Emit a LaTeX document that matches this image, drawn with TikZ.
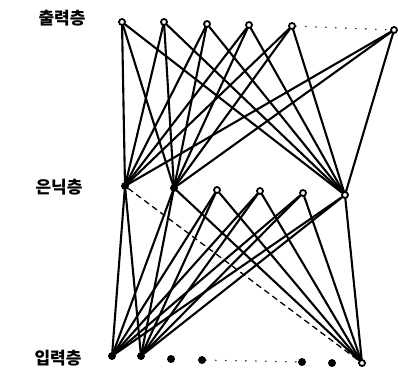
\documentclass[tikz,border=0pt]{standalone}
\usepackage{fontspec}
\newfontfamily\krfont{Noto Sans CJK KR}
\usetikzlibrary{positioning}

\begin{document}
\begin{tikzpicture}[
    x=1pt, y=-1pt,
    every node/.style={font=\krfont\bfseries\fontsize{17}{17}\selectfont},
    unit/.style={circle, draw, line width=1.8pt, inner sep=0pt, minimum size=6pt, fill=#1},
    unit/.default=white,
    dotunit/.style={unit=black},
    link/.style={line width=2.1pt, line cap=round},
    faint/.style={line width=1.3pt, dashed, dash pattern=on 6pt off 4pt},
    gap/.style={line width=1.6pt, line cap=round, dash pattern=on 0pt off 10pt},
    layerlabel/.style={anchor=center, inner sep=0pt},
]
\useasboundingbox (0,0) rectangle (398,372);

% --- output layer ---------------------------------------------------
\node[unit] (o1) at (122,22) {};
\node[unit] (o2) at (164,22) {};
\node[unit] (o3) at (207,24) {};
\node[unit] (o4) at (249,25) {};
\node[unit] (o5) at (292,26) {};
\node[unit] (o6) at (394,30) {};

% --- hidden layer ---------------------------------------------------
\node[dotunit] (h1) at (125,186) {};
\node[dotunit] (h2) at (174,188) {};
\node[unit]    (h3) at (217,190) {};
\node[unit]    (h4) at (260,191) {};
\node[unit]    (h5) at (303,193) {};
\node[unit]    (h6) at (345,195) {};

% --- input layer ----------------------------------------------------
\node[dotunit] (i1) at (112,356) {};
\node[dotunit] (i2) at (141,356) {};
\node[dotunit] (i3) at (171,359) {};
\node[dotunit] (i4) at (202,360) {};
\node[dotunit] (i5) at (302,362) {};
\node[dotunit] (i6) at (332,363) {};
\node[unit]    (i7) at (362,363) {};

% --- layer labels ---------------------------------------------------
\node[layerlabel] (lout) at (62,18)  {출력층};
\node[layerlabel] (lhid) at (59,187) {은닉층};
\node[layerlabel] (lin)  at (58,358) {입력층};

% --- output -> hidden (only h1, h2, h6 are wired) -------------------
\foreach \o in {o1,o2,o3,o4,o5,o6}
  \foreach \h in {h1,h2,h6}
    \draw[link] (\o) -- (\h);

% --- hidden -> input (only i1, i2, i7 are wired) --------------------
\foreach \h in {h2,h3,h4,h5,h6}
  \foreach \i in {i1,i2,i7}
    \draw[link] (\h) -- (\i);
\draw[link] (h1) -- (i1);
\draw[link] (h1) -- (i2);
\draw[faint] (h1) -- (i7);

% --- omitted units --------------------------------------------------
\draw[gap] (o5) -- (o6);
\draw[gap] (i4) -- (i5);
\end{tikzpicture}
\end{document}
